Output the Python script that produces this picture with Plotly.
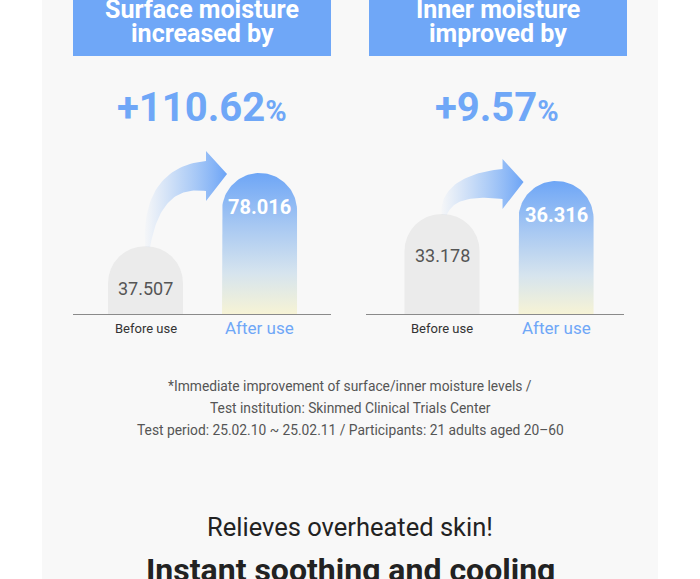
import math
import plotly.graph_objects as go

# ---------------- data ----------------
categories = ["Before use", "After use"]
surface_values = [37.507, 78.016]
inner_values = [33.178, 36.316]
value_labels_surface = ["37.507", "78.016"]
value_labels_inner = ["33.178", "36.316"]
gain_labels = ["+110.62", "+9.57"]
panel_titles = [["Surface moisture", "increased by"], ["Inner moisture", "improved by"]]
footnote_lines = [
    "*Immediate improvement of surface/inner moisture levels /",
    "Test institution: Skinmed Clinical Trials Center",
    "Test period: 25.02.10 ~ 25.02.11 / Participants: 21 adults aged 20\u201360",
]
headline = "Relieves overheated skin!"
subhead = "Instant soothing and cooling"

# ---------------- style ----------------
W, H = 700, 579
BLUE = "#6fa7f7"
GRAY_BAR = "#ebebeb"
PANEL_BG = "#f8f8f8"
FONT = "Roboto"

panels = [
    dict(xa="x", ya="y", x0=73, x1=331, ytop=140, ybot=314,
         xr=[-0.636, 1.627], yr=[0, 96.3], values=surface_values,
         labels=value_labels_surface, head=(73, 331)),
    dict(xa="x2", ya="y2", x0=366, x1=624, ytop=140, ybot=314,
         xr=[-0.667, 1.596], yr=[23.67, 40.21], values=inner_values,
         labels=value_labels_inner, head=(369, 627)),
]
BAR_W = 0.658  # in category units (~75 px)


def px_x(p, v):
    return p["x0"] + (v - p["xr"][0]) / (p["xr"][1] - p["xr"][0]) * (p["x1"] - p["x0"])


def px_y(p, v):
    return p["ybot"] - (v - p["yr"][0]) / (p["yr"][1] - p["yr"][0]) * (p["ybot"] - p["ytop"])


def dx(p, px):
    return p["xr"][0] + (px - p["x0"]) / (p["x1"] - p["x0"]) * (p["xr"][1] - p["xr"][0])


def dy(p, py):
    return p["yr"][0] + (p["ybot"] - py) / (p["ybot"] - p["ytop"]) * (p["yr"][1] - p["yr"][0])


fig = go.Figure()
shapes = []
annotations = []


def pap_y(py):
    return 1 - py / H


def ann(**kw):
    base = dict(showarrow=False, xanchor="center", yanchor="middle")
    base.update(kw)
    annotations.append(base)


shapes.append(dict(type="rect", xref="paper", yref="paper", x0=42 / W, x1=658 / W,
                   y0=0, y1=1, fillcolor=PANEL_BG, line=dict(width=0), layer="below"))

for i, p in enumerate(panels):
    xs = [0, 1]
    vals = p["values"]
    # before bar (gray, rounded top)
    fig.add_trace(go.Bar(x=[xs[0]], y=[vals[0]], width=[BAR_W], xaxis=p["xa"], yaxis=p["ya"],
                         marker=dict(color=GRAY_BAR, line=dict(width=0), cornerradius="50%"),
                         hoverinfo="skip"))
    # after bar (gradient, rounded top) as polygon from data value
    half_px = (px_x(p, 1 + BAR_W / 2) - px_x(p, 1 - BAR_W / 2)) / 2
    cx = px_x(p, xs[1])
    top = px_y(p, vals[1])
    cy = top + half_px
    pts = [(cx - half_px, p["ybot"] + 2)]
    for k in range(0, 61):
        th = math.pi - math.pi * k / 60
        pts.append((cx + half_px * math.cos(th), cy - half_px * math.sin(th)))
    pts.append((cx + half_px, p["ybot"] + 2))
    pts.append(pts[0])
    fig.add_trace(go.Scatter(
        x=[dx(p, a) for a, b in pts], y=[dy(p, b) for a, b in pts],
        xaxis=p["xa"], yaxis=p["ya"], mode="lines", fill="toself",
        line=dict(width=0, color="rgba(0,0,0,0)"),
        fillgradient=dict(type="vertical", colorscale=[
            [0, "#f8f4d4"], [0.3, "#d6e4ee"], [0.62, "#a9c9f2"], [1, "#6ea6f6"]]),
        hoverinfo="skip"))

    # curved arrow from before top to after top
    T = (px_x(p, xs[0]) + 2, px_y(p, vals[0]) + 1)
    tip = (px_x(p, xs[1]) - half_px + 5, px_y(p, vals[1]) + 1)
    Hh = (tip[0] - 21, tip[1] + 2)
    C = (T[0] + 4, Hh[1])
    outer, inner = [], []
    N = 40
    for k in range(N + 1):
        t = k / N
        bx = (1 - t) ** 2 * T[0] + 2 * t * (1 - t) * C[0] + t * t * Hh[0]
        by = (1 - t) ** 2 * T[1] + 2 * t * (1 - t) * C[1] + t * t * Hh[1]
        tx = 2 * (1 - t) * (C[0] - T[0]) + 2 * t * (Hh[0] - C[0])
        ty = 2 * (1 - t) * (C[1] - T[1]) + 2 * t * (Hh[1] - C[1])
        L = math.hypot(tx, ty) or 1
        nx, ny = ty / L, -tx / L
        w = 2.5 + 12.5 * t ** 0.9
        outer.append((bx + nx * w, by + ny * w))
        inner.append((bx - nx * w, by - ny * w))
    head = [(Hh[0], Hh[1] - 25), tip, (Hh[0], Hh[1] + 25)]
    apts = outer + head + inner[::-1] + [outer[0]]
    fig.add_trace(go.Scatter(
        x=[dx(p, a) for a, b in apts], y=[dy(p, b) for a, b in apts],
        xaxis=p["xa"], yaxis=p["ya"], mode="lines", fill="toself",
        line=dict(width=0, color="rgba(0,0,0,0)"),
        fillgradient=dict(type="horizontal", colorscale=[
            [0, "rgba(150,190,245,0.03)"], [0.45, "rgba(140,185,246,0.55)"], [1, "rgba(108,164,246,1)"]]),
        hoverinfo="skip"))

    # value labels
    ann(xref=p["xa"], yref=p["ya"], x=xs[0], y=vals[0], yshift=-42, text=p["labels"][0],
        font=dict(family=FONT, size=18, color="#555555"))
    ann(xref=p["xa"], yref=p["ya"], x=xs[1], y=vals[1], yshift=-34, text="<b>%s</b>" % p["labels"][1],
        font=dict(family=FONT, size=20, color="#ffffff"))
    # category labels
    ann(xref=p["xa"], yref="paper", x=xs[0], y=pap_y(329), text=categories[0],
        font=dict(family=FONT, size=13, color="#333333"))
    ann(xref=p["xa"], yref="paper", x=xs[1], y=pap_y(328), text=categories[1],
        font=dict(family=FONT, size=17, color=BLUE))

    # header box & title
    hx0, hx1 = p["head"]
    shapes.append(dict(type="rect", xref="paper", yref="paper", x0=hx0 / W, x1=hx1 / W,
                       y0=pap_y(56), y1=1.02, fillcolor=BLUE, line=dict(width=0), layer="below"))
    hc = (hx0 + hx1) / 2 / W
    for j, line in enumerate(panel_titles[i]):
        ann(xref="paper", yref="paper", x=hc, y=pap_y(9 + 25 * j), text="<b>%s</b>" % line,
            font=dict(family=FONT, size=25, color="#ffffff"))
    # gain label
    gx = [202, 497][i] / W
    ann(xref="paper", yref="paper", x=gx, y=pap_y(107),
        text="<b>%s<span style='font-size:29px'>%%</span></b>" % gain_labels[i],
        font=dict(family=FONT, size=40, color=BLUE))

for j, line in enumerate(footnote_lines):
    ann(xref="paper", yref="paper", x=0.5, y=pap_y(386 + 22 * j), text=line,
        font=dict(family=FONT, size=13.8, color="#555555"))
ann(xref="paper", yref="paper", x=0.5, y=pap_y(527), text=headline,
    font=dict(family=FONT, size=25.5, color="#222222"))
ann(xref="paper", yref="paper", x=0.5, y=pap_y(570), text="<b>%s</b>" % subhead,
    font=dict(family=FONT, size=32, color="#222222"))

axis_common = dict(showgrid=False, zeroline=False, showticklabels=False, ticks="", fixedrange=True)
layout = dict(
    width=W, height=H, margin=dict(l=0, r=0, t=0, b=0),
    paper_bgcolor="#ffffff", plot_bgcolor="rgba(0,0,0,0)",
    showlegend=False, hovermode=False, barmode="overlay",
    shapes=shapes, annotations=annotations,
)
for i, p in enumerate(panels):
    sx = "" if i == 0 else str(i + 1)
    layout["xaxis" + sx] = dict(axis_common, domain=[p["x0"] / W, p["x1"] / W], range=p["xr"],
                                anchor="y" + sx, showline=True, linecolor="#8a8a8a", linewidth=1)
    layout["yaxis" + sx] = dict(axis_common, domain=[pap_y(p["ybot"]), pap_y(p["ytop"])],
                                range=p["yr"], anchor="x" + sx, showline=False)
fig.update_layout(**layout)
fig.write_html("out.html")
